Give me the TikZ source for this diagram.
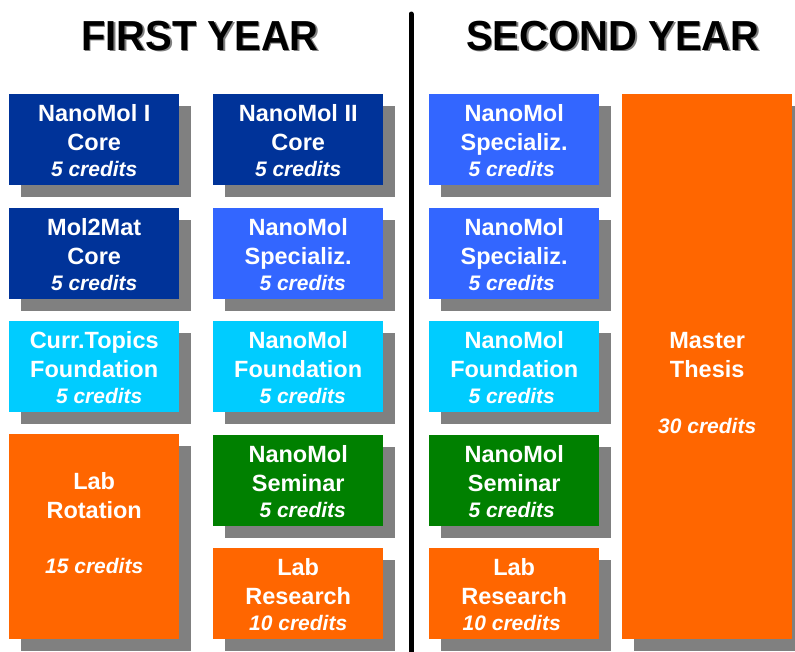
\documentclass[tikz,border=0pt]{standalone}
\usepackage{fontspec}
\setmainfont{Liberation Sans}
\usetikzlibrary{shadows}
\definecolor{cdark}{HTML}{003399}
\definecolor{cbright}{HTML}{3366FF}
\definecolor{ccyan}{HTML}{00CCFF}
\definecolor{cgreen}{HTML}{008000}
\definecolor{corange}{HTML}{FF6600}
\definecolor{cshadow}{HTML}{808080}
\tikzset{
  course/.style={rectangle, inner sep=0pt, anchor=north west, minimum width=170pt,
    minimum height=91pt, draw=none,
    drop shadow={shadow xshift=12pt, shadow yshift=-12pt, fill=cshadow, opacity=1}},
  dark/.style={course, fill=cdark},
  bright/.style={course, fill=cbright},
  cyanb/.style={course, fill=ccyan},
  greenb/.style={course, fill=cgreen},
  orangeb/.style={course, fill=corange},
  ttl/.style={anchor=base, inner sep=0pt, text=white, font=\fontsize{23.5}{28}\selectfont\bfseries},
  crd/.style={anchor=base, inner sep=0pt, text=white, font=\fontsize{21}{25}\selectfont\bfseries\itshape},
  head/.style={anchor=base, inner sep=0pt, font=\fontsize{40}{44}\selectfont\bfseries, yscale=1.05},
}
% #1 name, #2 line1, #3 line2, #4 credits, #5 credit xshift
\newcommand\coursetext[5]{%
  \node[ttl] (#1l1) at ([yshift=-27.5pt]#1.north) {#2};
  \node[ttl] (#1l2) at ([yshift=-56.5pt]#1.north) {#3};
  \node[crd] (#1l3) at ([yshift=-82.5pt,xshift=#5]#1.north) {#4};
}
\begin{document}
\begin{tikzpicture}[x=1pt, y=-1pt]
\useasboundingbox (0,0) rectangle (795,651);
\fill[white] (0,0) rectangle (795,651);

% headings
\node[head, text=cshadow] (h1s) at (201.5,51.5) {FIRST YEAR};
\node[head] (h1) at (200,50) {FIRST YEAR};
\node[head, text=cshadow] (h2s) at (614.5,51.5) {SECOND YEAR};
\node[head] (h2) at (613,50) {SECOND YEAR};

% divider
\coordinate (dtop) at (411,14);
\coordinate (dbot) at (411,660);
\draw[line width=5pt, line cap=round] (dtop) -- (dbot);

% column A
\node[dark] (a1) at (9,94) {};
\coursetext{a1}{NanoMol I}{Core}{5 credits}{0pt}
\node[dark] (a2) at (9,208) {};
\coursetext{a2}{Mol2Mat}{Core}{5 credits}{0pt}
\node[cyanb] (a3) at (9,321) {};
\coursetext{a3}{Curr.Topics}{Foundation}{5 credits}{5pt}
\node[orangeb, minimum height=205pt] (a4) at (9,434) {};
\node[ttl] (a4l1) at ([yshift=-55pt]a4.north) {Lab};
\node[ttl] (a4l2) at ([yshift=-84pt]a4.north) {Rotation};
\node[crd] (a4l3) at ([yshift=-139pt]a4.north) {15 credits};

% column B
\node[dark] (b1) at (213,94) {};
\coursetext{b1}{NanoMol II}{Core}{5 credits}{0pt}
\node[bright] (b2) at (213,208) {};
\coursetext{b2}{NanoMol}{Specializ.}{5 credits}{4.5pt}
\node[cyanb] (b3) at (213,321) {};
\coursetext{b3}{NanoMol}{Foundation}{5 credits}{4.5pt}
\node[greenb] (b4) at (213,435) {};
\coursetext{b4}{NanoMol}{Seminar}{5 credits}{4.5pt}
\node[orangeb] (b5) at (213,548) {};
\coursetext{b5}{Lab}{Research}{10 credits}{0pt}

% column C
\node[bright] (c1) at (429,94) {};
\coursetext{c1}{NanoMol}{Specializ.}{5 credits}{-2.5pt}
\node[bright] (c2) at (429,208) {};
\coursetext{c2}{NanoMol}{Specializ.}{5 credits}{-2.5pt}
\node[cyanb] (c3) at (429,321) {};
\coursetext{c3}{NanoMol}{Foundation}{5 credits}{-2.5pt}
\node[greenb] (c4) at (429,435) {};
\coursetext{c4}{NanoMol}{Seminar}{5 credits}{-2.5pt}
\node[orangeb] (c5) at (429,548) {};
\coursetext{c5}{Lab}{Research}{10 credits}{-2.5pt}

% column D
\node[orangeb, minimum height=545pt] (d1) at (622,94) {};
\node[ttl] (d1l1) at ([yshift=-254pt]d1.north) {Master};
\node[ttl] (d1l2) at ([yshift=-283pt]d1.north) {Thesis};
\node[crd] (d1l3) at ([yshift=-339pt]d1.north) {30 credits};
\end{tikzpicture}
\end{document}
